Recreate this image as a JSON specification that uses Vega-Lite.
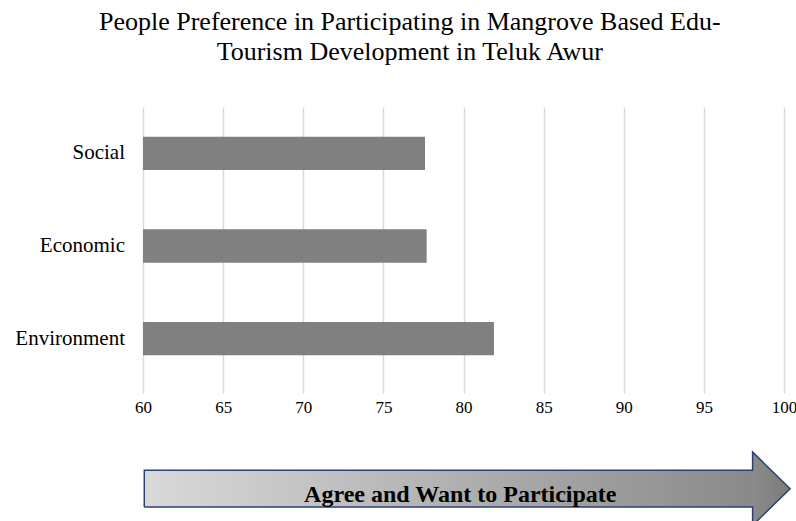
{
  "$schema": "https://vega.github.io/schema/vega-lite/v6.json",
  "background": "white",
  "padding": {"left": 14, "top": 9, "right": 0, "bottom": 0},
  "config": {"view": {"stroke": null}, "font": "Liberation Serif"},
  "title": {
    "text": ["People Preference in Participating in Mangrove Based Edu-", "Tourism Development in Teluk Awur"],
    "font": "Liberation Serif",
    "fontSize": 26,
    "fontWeight": "normal",
    "color": "black",
    "lineHeight": 30,
    "anchor": "middle",
    "dx": 4,
    "offset": 42
  },
  "datasets": {
    "bars": [
      {"aspect": "Social", "score": 77.6},
      {"aspect": "Economic", "score": 77.7},
      {"aspect": "Environment", "score": 81.9}
    ],
    "body": [
      {"px": 60.08, "lo": -1, "hi": 1},
      {"px": 98.3, "lo": -1, "hi": 1}
    ],
    "head": [
      {"px": 98.04, "lo": -2, "hi": 2},
      {"px": 100.38, "lo": 0, "hi": 0}
    ],
    "outline": [
      {"px": 60.08, "py": -1, "ord": 1},
      {"px": 98.04, "py": -1, "ord": 2},
      {"px": 98.04, "py": -2, "ord": 3},
      {"px": 100.38, "py": 0, "ord": 4},
      {"px": 98.04, "py": 2, "ord": 5},
      {"px": 98.04, "py": 1, "ord": 6},
      {"px": 60.08, "py": 1, "ord": 7},
      {"px": 60.08, "py": -1, "ord": 8}
    ],
    "label": [
      {"px": 79.8, "py": -0.7, "txt": "Agree and Want to Participate"}
    ]
  },
  "spacing": 34,
  "resolve": {"scale": {"x": "independent", "y": "independent"}},
  "vconcat": [
    {
      "width": 641,
      "height": 278,
      "data": {"name": "bars"},
      "mark": {"type": "bar", "color": "#808080"},
      "encoding": {
        "y": {
          "field": "aspect",
          "type": "nominal",
          "sort": ["Social", "Economic", "Environment"],
          "scale": {"paddingInner": 0.64, "paddingOuter": 0.32},
          "axis": {
            "title": null,
            "ticks": false,
            "domain": false,
            "labelFontSize": 21,
            "labelColor": "black",
            "labelPadding": 18.5,
            "labelFont": "Liberation Serif"
          }
        },
        "x": {
          "field": "score",
          "type": "quantitative",
          "scale": {"domain": [60, 100], "zero": false, "nice": false},
          "axis": {
            "title": null,
            "values": [60, 65, 70, 75, 80, 85, 90, 95, 100],
            "domain": false,
            "grid": true,
            "gridColor": "#d9d9d9",
            "gridWidth": 1.5,
            "tickColor": "#d9d9d9",
            "tickWidth": 1.5,
            "tickSize": 8,
            "labelFontSize": 17,
            "labelColor": "black",
            "labelPadding": 6,
            "labelFont": "Liberation Serif",
            "labelFlush": false,
            "labelOverlap": false
          }
        },
        "x2": {"datum": 60}
      }
    },
    {
      "width": 641,
      "height": 73.4,
      "encoding": {
        "x": {"field": "px", "type": "quantitative", "scale": {"domain": [60, 100], "zero": false, "nice": false}, "axis": null}
      },
      "layer": [
        {
          "data": {"name": "body"},
          "mark": {
            "type": "area",
            "orient": "vertical",
            "clip": false,
            "fill": {
              "gradient": "linear",
              "x1": 0, "x2": 1, "y1": 0, "y2": 0,
              "stops": [
                {"offset": 0, "color": "#d9d9d9"},
                {"offset": 1, "color": "#898989"}
              ]
            },
            "fillOpacity": 1
          },
          "encoding": {
            "y": {"field": "lo", "type": "quantitative", "stack": null, "scale": {"domain": [-2, 2], "zero": false, "nice": false}, "axis": null},
            "y2": {"field": "hi"}
          }
        },
        {
          "data": {"name": "head"},
          "mark": {
            "type": "area",
            "orient": "vertical",
            "clip": false,
            "fill": {
              "gradient": "linear",
              "x1": 0, "x2": 1, "y1": 0, "y2": 0,
              "stops": [
                {"offset": 0, "color": "#8a8a8a"},
                {"offset": 1, "color": "#7c7c7c"}
              ]
            },
            "fillOpacity": 1
          },
          "encoding": {
            "y": {"field": "lo", "type": "quantitative", "stack": null, "axis": null},
            "y2": {"field": "hi"}
          }
        },
        {
          "data": {"name": "outline"},
          "mark": {"type": "line", "clip": false, "color": "#2a4270", "strokeWidth": 1.5, "strokeJoin": "miter"},
          "encoding": {
            "y": {"field": "py", "type": "quantitative", "axis": null},
            "order": {"field": "ord", "type": "quantitative"}
          }
        },
        {
          "data": {"name": "label"},
          "mark": {"type": "text", "font": "Liberation Serif", "fontSize": 24, "fontWeight": "bold", "color": "black", "align": "center", "baseline": "alphabetic"},
          "encoding": {
            "y": {"field": "py", "type": "quantitative"},
            "text": {"field": "txt"}
          }
        }
      ]
    }
  ]
}
